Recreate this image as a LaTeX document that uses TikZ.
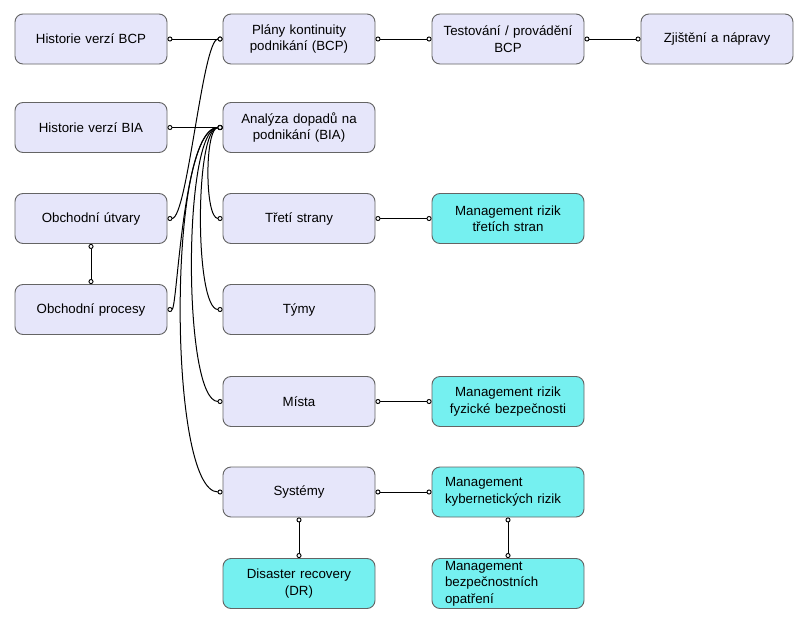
\documentclass[tikz,border=0pt]{standalone}
\usepackage{fontspec}
\setmainfont{Liberation Sans}
\usetikzlibrary{arrows.meta}
\definecolor{lav}{RGB}{230,230,250}
\definecolor{cyn}{RGB}{117,240,240}
\definecolor{bord}{RGB}{100,100,100}
\begin{document}
\begin{tikzpicture}[x=1pt,y=-1pt,
  box/.style={draw=bord, line width=0.9pt, rounded corners=8pt, fill=lav,
    minimum width=152pt, minimum height=50pt, inner sep=0pt,
    text width=140pt, align=center, font=\fontsize{13.3pt}{16.5pt}\selectfont},
  cbox/.style={box, fill=cyn},
  lbox/.style={cbox, text width=126pt, align=left},
  endc/.tip={Circle[length=5pt,fill=white,line width=0.9pt]},
  conn/.style={line width=1pt, black, endc-endc}]
\useasboundingbox (0,0) rectangle (804,627);
\fill[white] (0,0) rectangle (804,627);
% column 1
\node[box] (hbcp) at (91,39) {Historie verzí BCP};
\node[box] (hbia) at (91,127.5) {Historie verzí BIA};
\node[box] (utv) at (91,218.5) {Obchodní útvary};
\node[box] (proc) at (91,309.5) {Obchodní procesy};
% column 2
\node[box] (bcp) at (299,39) {Plány kontinuity\\podnikání (BCP)};
\node[box] (bia) at (299,127.5) {Analýza dopadů na\\podnikání (BIA)};
\node[box] (tre) at (299,218.5) {Třetí strany};
\node[box] (tym) at (299,309.5) {Týmy};
\node[box] (mis) at (299,401.5) {Místa};
\node[box] (sys) at (299,492) {Systémy};
\node[cbox] (dr) at (299,583.5) {Disaster recovery\\(DR)};
% column 3
\node[box] (test) at (508,39) {Testování / provádění\\BCP};
\node[cbox] (mrt) at (508,218.5) {Management rizik\\třetích stran};
\node[cbox] (mrf) at (508,401.5) {Management rizik\\fyzické bezpečnosti};
\node[lbox] (mrk) at (508,492) {Management\\kybernetických rizik};
\node[lbox] (mbo) at (508,583.5) {Management\\bezpečnostních\\opatření};
% column 4
\node[box] (zji) at (717,39) {Zjištění a nápravy};
% straight connectors
\draw[conn] (hbcp.east) -- (bcp.west);
\draw[conn] (bcp.east) -- (test.west);
\draw[conn] (test.east) -- (zji.west);
\draw[conn] (hbia.east) -- (bia.west);
\draw[conn] (utv.south) -- (proc.north);
\draw[conn] (tre.east) -- (mrt.west);
\draw[conn] (mis.east) -- (mrf.west);
\draw[conn] (sys.east) -- (mrk.west);
\draw[conn] (sys.south) -- (dr.north);
\draw[conn] (mrk.south) -- (mbo.north);
% curved connectors
\draw[conn] (utv.east) .. controls +(20,0) and +(-20,0) .. (bcp.west);
\draw[conn] (bia.west) .. controls +(-40,0) and +(10,0) .. (proc.east);
\draw[conn] (bia.west) .. controls +(-18,0) and +(-18,0) .. (tre.west);
\draw[conn] (bia.west) .. controls +(-28,0) and +(-28,0) .. (tym.west);
\draw[conn] (bia.west) .. controls +(-40,0) and +(-40,0) .. (mis.west);
\draw[conn] (bia.west) .. controls +(-55,0) and +(-55,0) .. (sys.west);
\end{tikzpicture}
\end{document}
